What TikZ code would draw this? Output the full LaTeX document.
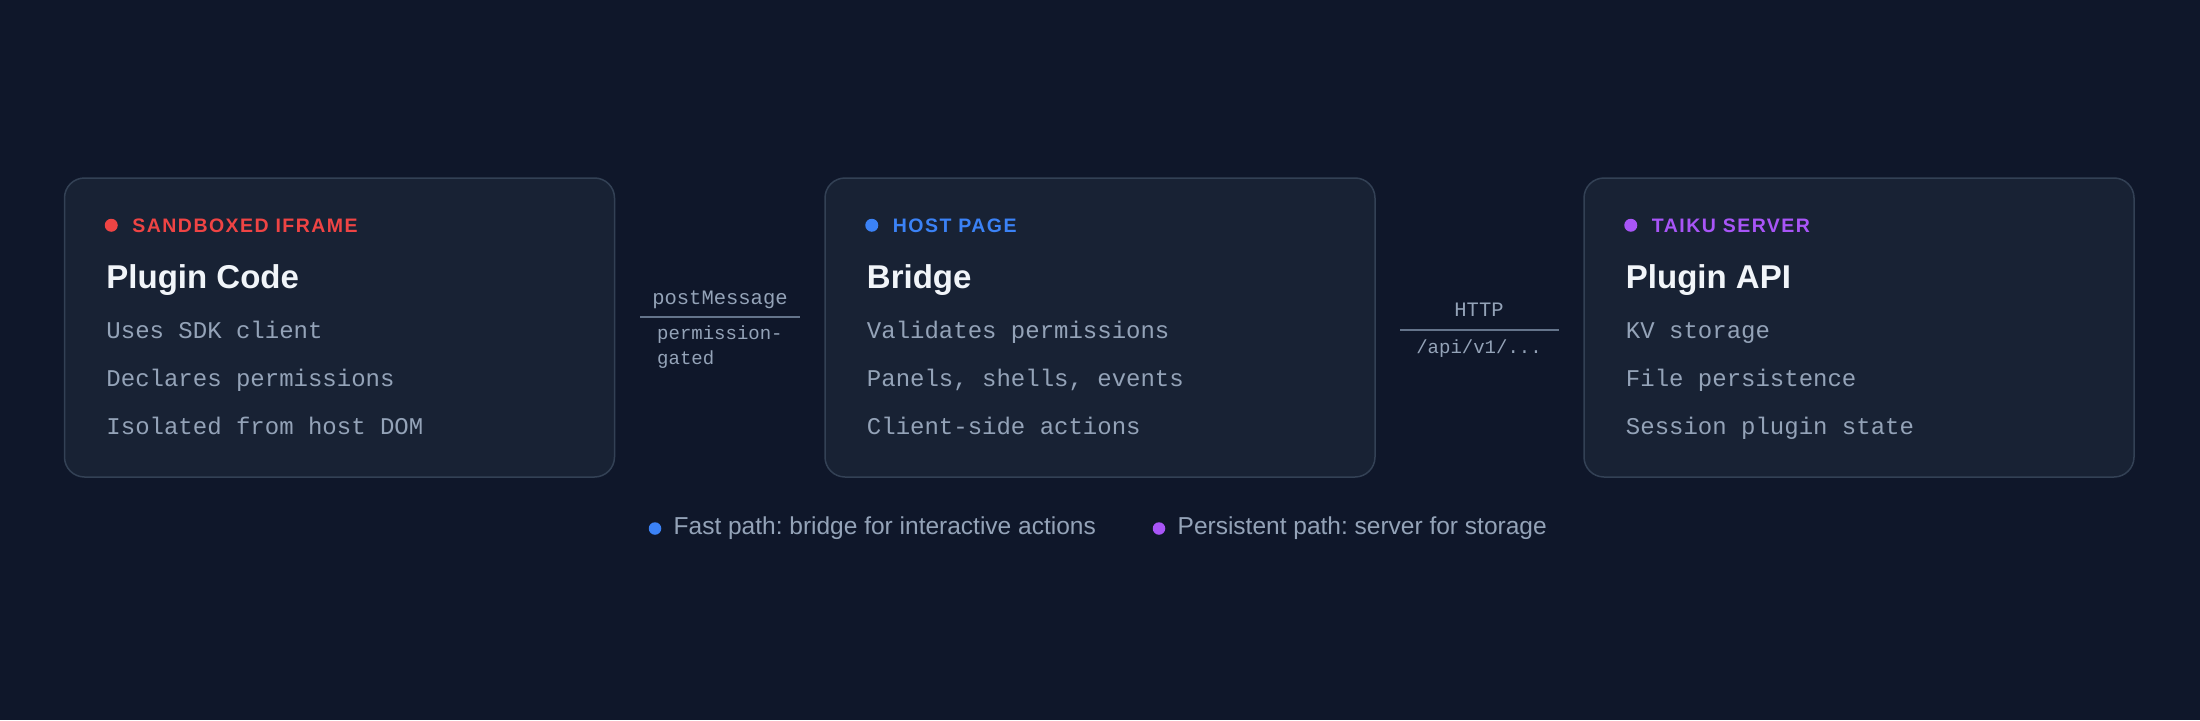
\documentclass[tikz,border=0pt]{standalone}
\usepackage{fontspec}
\setmainfont{Liberation Sans}
\setmonofont{Liberation Mono}
\usetikzlibrary{positioning}
\frenchspacing
\definecolor{bgnavy}{HTML}{0F172A}
\definecolor{cardfill}{HTML}{182234}
\definecolor{cardline}{HTML}{334155}
\definecolor{tagred}{HTML}{EF4444}
\definecolor{tagblue}{HTML}{3B82F6}
\definecolor{tagpurple}{HTML}{A855F7}
\definecolor{titlewhite}{HTML}{F1F5F9}
\definecolor{textgrey}{HTML}{94A3B8}
\definecolor{wiregrey}{HTML}{64748B}
\tikzset{
  card/.style={draw=cardline,line width=1.5,fill=cardfill,rounded corners=20,
    minimum width=550,minimum height=299,inner sep=0},
  tagdot/.style={circle,fill=#1,inner sep=0,minimum size=13},
  tagtext/.style={anchor=base west,inner sep=0,text=#1,
    font=\fontsize{19.5}{20}\selectfont\bfseries\addfontfeature{LetterSpace=7.5}},
  cardtitle/.style={anchor=base west,inner sep=0,text=titlewhite,
    font=\fontsize{33}{36}\selectfont\bfseries},
  carditem/.style={anchor=base west,inner sep=0,text=textgrey,
    font=\fontsize{24}{26}\ttfamily},
  wirelabel/.style={inner sep=0,text=textgrey,font=\fontsize{20.5}{22}\ttfamily},
  wirenote/.style={inner sep=0,text=textgrey,font=\fontsize{19}{20}\ttfamily},
  wire/.style={draw=wiregrey,line width=1.5},
  legendtext/.style={inner sep=0,text=textgrey,font=\fontsize{24.5}{26}\selectfont}
}
\begin{document}
\begin{tikzpicture}[x=1pt,y=-1pt]
\fill[bgnavy] (0,0) rectangle (2200,720);
\useasboundingbox (0,0) rectangle (2200,720);

% the three cards
\node [card] (plug) at (339.5,327.5) {};
\node [card] (bridge) at (1100,327.5) {};
\node [card] (server) at (1859,327.5) {};

% sandboxed iframe
\node [tagdot=tagred] (plugdot) at ([shift={(47.5,48)}]plug.north west) {};
\node [tagtext=tagred] (plugtag) at ([shift={(68.5,55)}]plug.north west) {SANDBOXED IFRAME};
\node [cardtitle] (plugtitle) at ([shift={(42.5,111)}]plug.north west) {Plugin Code};
\node [carditem] (plugA) at ([shift={(42.5,161.5)}]plug.north west) {Uses SDK client};
\node [carditem] (plugB) at ([shift={(42.5,209.5)}]plug.north west) {Declares permissions};
\node [carditem] (plugC) at ([shift={(42.5,257.5)}]plug.north west) {Isolated from host DOM};

% host page
\node [tagdot=tagblue] (bridgedot) at ([shift={(47.5,48)}]bridge.north west) {};
\node [tagtext=tagblue] (bridgetag) at ([shift={(68.5,55)}]bridge.north west) {HOST PAGE};
\node [cardtitle] (bridgetitle) at ([shift={(42.5,111)}]bridge.north west) {Bridge};
\node [carditem] (bridgeA) at ([shift={(42.5,161.5)}]bridge.north west) {Validates permissions};
\node [carditem] (bridgeB) at ([shift={(42.5,209.5)}]bridge.north west) {Panels, shells, events};
\node [carditem] (bridgeC) at ([shift={(42.5,257.5)}]bridge.north west) {Client-side actions};

% taiku server
\node [tagdot=tagpurple] (serverdot) at ([shift={(47.5,48)}]server.north west) {};
\node [tagtext=tagpurple] (servertag) at ([shift={(68.5,55)}]server.north west) {TAIKU SERVER};
\node [cardtitle] (servertitle) at ([shift={(42.5,111)}]server.north west) {Plugin API};
\node [carditem] (serverA) at ([shift={(42.5,161.5)}]server.north west) {KV storage};
\node [carditem] (serverB) at ([shift={(42.5,209.5)}]server.north west) {File persistence};
\node [carditem] (serverC) at ([shift={(42.5,257.5)}]server.north west) {Session plugin state};

% links between cards
\node [wirelabel,anchor=base] (pmsg) at (720,304) {postMessage};
\coordinate (pmL) at (640,317);
\coordinate (pmR) at (800,317);
\draw [wire] (pmL) -- (pmR);
\node [wirenote,anchor=base west] (gateA) at (657,339.5) {permission-};
\node [wirenote,anchor=base west] (gateB) at (657,364.5) {gated};

\node [wirelabel,anchor=base] (http) at (1479,316) {HTTP};
\coordinate (httpL) at (1400,330);
\coordinate (httpR) at (1559,330);
\draw [wire] (httpL) -- (httpR);
\node [wirenote,anchor=base] (apipath) at (1479,353) {/api/v1/...};

% legend
\node [tagdot=tagblue,minimum size=12.5] (fastdot) at (655,528.5) {};
\node [legendtext,right=12 of fastdot] (fasttext) {Fast path: bridge for interactive actions};
\node [tagdot=tagpurple,minimum size=12.5] (slowdot) at (1159,528.5) {};
\node [legendtext,right=12 of slowdot] (slowtext) {Persistent path: server for storage};
\end{tikzpicture}
\end{document}
